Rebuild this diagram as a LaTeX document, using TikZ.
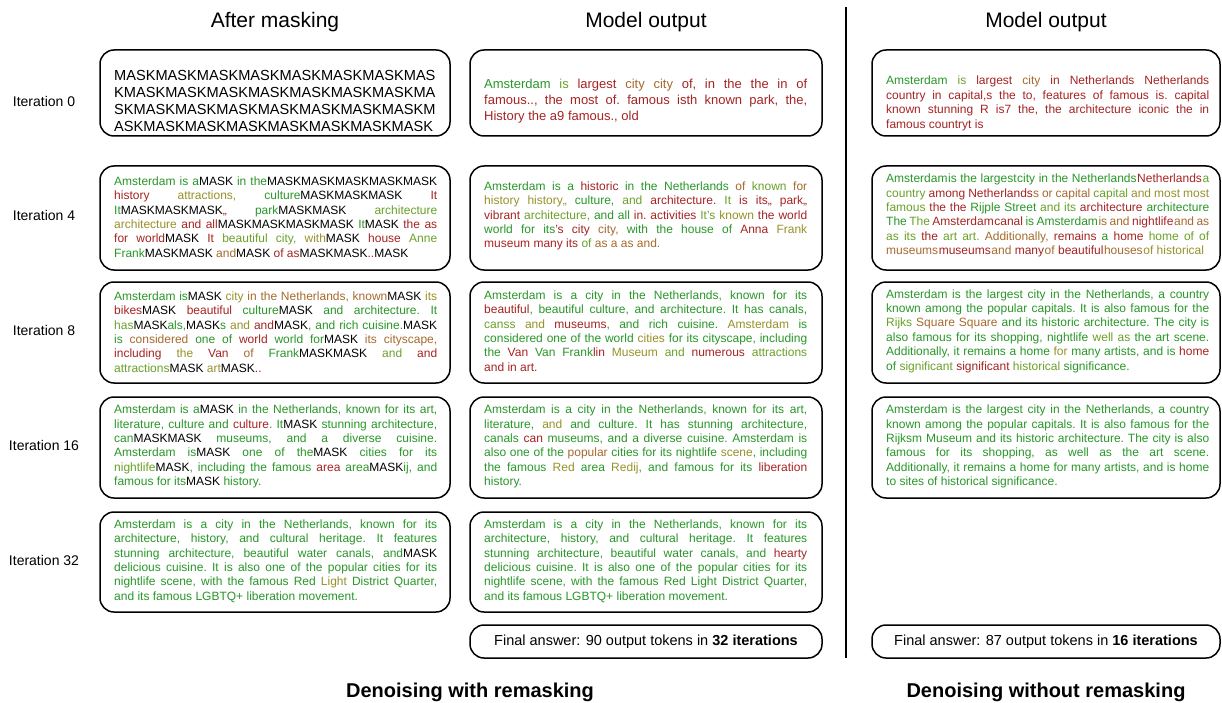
\documentclass[tikz,border=0pt]{standalone}
\usepackage{fontspec}
\setmainfont{Liberation Sans}
\definecolor{cg}{RGB}{40,150,40}
\definecolor{cl}{RGB}{105,160,40}
\definecolor{co}{RGB}{150,145,40}
\definecolor{cb}{RGB}{165,105,45}
\definecolor{cr}{RGB}{165,35,35}
\newcommand\cG[1]{\textcolor{cg}{#1}}
\newcommand\cL[1]{\textcolor{cl}{#1}}
\newcommand\cO[1]{\textcolor{co}{#1}}
\newcommand\cB[1]{\textcolor{cb}{#1}}
\newcommand\cR[1]{\textcolor{cr}{#1}}
\newcommand\MK{\textcolor{black}{MASK}}
\newcommand\tk{\kern0.6pt}
\newcommand\JL[1]{\makebox[323pt][s]{#1}}
\tikzset{
  box/.style={draw=black, line width=1.5pt, rounded corners=14pt, inner sep=0pt},
  body/.style={anchor=west, inner sep=0pt, align=left, font=\frenchspacing\fontsize{12}{14.4}\selectfont},
  head/.style={font=\fontsize{21}{25}\selectfont},
  iter/.style={font=\fontsize{14}{17}\selectfont},
  foot/.style={font=\bfseries\fontsize{20}{24}\selectfont},
  ans/.style={font=\fontsize{14.5}{17}\selectfont},
}
\begin{document}
\begin{tikzpicture}[x=1pt,y=-1pt]
\useasboundingbox (0,0) rectangle (1222,703);
% headings
\node[head] (h1) at (275,22) {After masking};
\node[head] (h2) at (646,22) {Model output};
\node[head] (h3) at (1046,22) {Model output};
% iteration labels
\node[iter] (i0) at (44,101) {Iteration 0};
\node[iter] (i4) at (44,215) {Iteration 4};
\node[iter] (i8) at (44,330) {Iteration 8};
\node[iter] (i16) at (44,445) {Iteration 16};
\node[iter] (i32) at (44,560) {Iteration 32};
% divider
\coordinate (dtop) at (846,7);
\coordinate (dbot) at (846,658);
\draw[line width=2.5pt] (dtop) -- (dbot);
% boxes
\node[box, minimum width=350pt, minimum height=86pt] (b01) at (275,93) {};
\node[box, minimum width=352pt, minimum height=86pt] (b02) at (646,93) {};
\node[box, minimum width=348pt, minimum height=86pt] (b03) at (1046,93) {};
\node[box, minimum width=350pt, minimum height=104pt] (b41) at (275,218) {};
\node[box, minimum width=352pt, minimum height=104pt] (b42) at (646,218) {};
\node[box, minimum width=348pt, minimum height=104pt] (b43) at (1046,218) {};
\node[box, minimum width=350pt, minimum height=101pt] (b81) at (275,332.5) {};
\node[box, minimum width=352pt, minimum height=101pt] (b82) at (646,332.5) {};
\node[box, minimum width=348pt, minimum height=101pt] (b83) at (1046,332.5) {};
\node[box, minimum width=350pt, minimum height=101pt] (b161) at (275,447.5) {};
\node[box, minimum width=352pt, minimum height=101pt] (b162) at (646,447.5) {};
\node[box, minimum width=348pt, minimum height=101pt] (b163) at (1046,447.5) {};
\node[box, minimum width=350pt, minimum height=100pt] (b321) at (275,562) {};
\node[box, minimum width=352pt, minimum height=100pt] (b322) at (646,562) {};
\node[box, minimum width=352pt, minimum height=33pt] (fa2) at (646,641.5) {};
\node[box, minimum width=348pt, minimum height=33pt] (fa3) at (1046,641.5) {};
\node[ans] (fat2) at (fa2.center) {Final answer: 90 output tokens in \textbf{32 iterations}};
\node[ans] (fat3) at (fa3.center) {Final answer: 87 output tokens in \textbf{16 iterations}};
% row 0
\node[body, font=\fontsize{14.6}{17}\selectfont] (t01) at (114,100.5) {MASKMASKMASKMASKMASKMASKMASKMAS\\KMASKMASKMASKMASKMASKMASKMASKMA\\SKMASKMASKMASKMASKMASKMASKMASKM\\ASKMASKMASKMASKMASKMASKMASKMASK};
\node[body, font=\frenchspacing\fontsize{13}{16}\selectfont] (t02) at (484,101.5) {%
\JL{\cG{Amsterdam} \cL{is} \cR{largest} \cB{city city} \cR{of, in the the in of}}\\
\JL{\cR{famous.., the most of. famous isth known park, the,}}\\
\cR{History the a9 famous., old}};
\node[body] (t03) at (886,103.5) {%
\JL{\cG{Amsterdam} \cL{is} \cR{largest} \cB{city} \cR{in Netherlands Netherlands}}\\
\JL{\cR{country in capital,s the to, features of famous is. capital}}\\
\JL{\cR{known stunning R is7 the, the architecture iconic the in}}\\
\cR{famous countryt is}};
% row 4
\node[body] (t41) at (114,217) {%
\JL{\cG{Amsterdam is a}\MK{} \cG{in the}\MK\MK\MK\MK\MK}\\
\JL{\cR{history} \cO{attractions,} \cG{culture}\MK\MK\MK{} \cR{It}}\\
\JL{\cG{It}\MK\MK\MK\cR{,,} \cG{park}\MK\MK{} \cL{architecture}}\\
\JL{\cO{architecture} \cR{and all}\MK\MK\MK\MK{} \cG{It}\MK{} \cR{the as}}\\
\JL{\cR{for world}\MK{} \cR{It} \cL{beautiful city,} \cO{with}\MK{} \cR{house} \cL{Anne}}\\
\cG{Frank}\MK\MK{} \cB{and}\MK{} \cR{of as}\MK\MK\cR{..}\MK};
\node[body] (t42) at (484,216) {%
\JL{\cG{Amsterdam is a} \cR{historic} \cG{in the Netherlands} \cB{of} \cL{known} \cB{for}}\\
\JL{\cO{history history,,} \cG{culture,} \cL{and} \cR{architecture.} \cL{It} \cR{is its,, park,,}}\\
\JL{\cR{vibrant} \cL{architecture,} \cG{and all} \cR{in. activities} \cL{It's} \cO{known} \cR{the world}}\\
\JL{\cG{world for its}\cR{'s} \cR{city} \cB{city,} \cG{with the house of} \cR{Anna} \cO{Frank}}\\
\cR{museum many its} \cL{of} \cB{as a as and.}};
\node[body] (t43) at (886,215.5) {%
\JL{\cG{Amsterdam}\tk\cG{is the largest}\tk\cG{city in the Netherlands}\tk\cR{Netherlands}\tk\cL{a}}\\
\JL{\cL{country} \cR{among} \cR{Netherlands}\cB{s} \cB{or capital} \cL{capital} \cO{and most most}}\\
\JL{\cL{famous} \cR{the the} \cG{Rijple Street} \cL{and its} \cR{architecture} \cG{architecture}}\\
\JL{\cG{The} \cL{The} \cR{Amsterdam}\tk\cR{canal} \cG{is Amsterdam}\tk\cB{is and} \cR{nightlife}\tk\cB{and as}}\\
\JL{\cL{as its} \cR{the} \cL{art art.} \cB{Additionally,} \cR{remains} \cG{a} \cR{home} \cL{home of of}}\\
\cB{museums}\tk\cR{museums}\tk\cB{and} \cR{many}\tk\cB{of} \cR{beautiful}\tk\cB{houses}\tk\cO{of historical}};
% row 8
\node[body] (t81) at (114,332) {%
\JL{\cG{Amsterdam is}\MK{} \cO{city} \cB{in the Netherlands, known}\MK{} \cO{its}}\\
\JL{\cR{bikes}\MK{} \cR{beautiful} \cG{culture}\MK{} \cG{and architecture. It}}\\
\JL{\cL{has}\MK\cG{als,}\MK\cG{s} \cO{and} \cR{and}\MK\cG{, and rich cuisine.}\MK}\\
\JL{\cG{is} \cB{considered} \cG{one of} \cR{world} \cG{world for}\MK{} \cB{its cityscape,}}\\
\JL{\cR{including} \cO{the} \cR{Van} \cB{of} \cG{Frank}\MK\MK{} \cL{and} \cR{and}}\\
\cL{attractions}\MK{} \cO{art}\MK\cR{..}};
\node[body] (t82) at (484,331) {%
\JL{\cG{Amsterdam is a city in the Netherlands, known for its}}\\
\JL{\cR{beautiful}\cG{, beautiful culture, and architecture. It has canals,}}\\
\JL{\cL{canss} \cO{and} \cR{museums}\cG{, and rich cuisine.} \cO{Amsterdam} \cG{is}}\\
\JL{\cG{considered one of the world} \cO{cities} \cG{for its cityscape, including}}\\
\JL{\cG{the} \cR{Van} \cG{Van Frank}\cR{lin} \cO{Museum} \cL{and} \cR{numerous} \cL{attractions}}\\
\cR{and in art.}};
\node[body] (t83) at (886,331) {%
\JL{\cG{Amsterdam is the largest city in the Netherlands, a country}}\\
\JL{\cG{known among the popular capitals. It is also famous for the}}\\
\JL{\cL{Rijks} \cB{Square Square} \cG{and its historic architecture. The city is}}\\
\JL{\cG{also famous for its shopping, nightlife} \cL{well as} \cG{the art scene.}}\\
\JL{\cG{Additionally, it remains a home} \cO{for} \cG{many artists, and is} \cR{home}}\\
\cG{of} \cL{significant} \cR{significant} \cL{historical} \cG{significance.}};
% row 16
\node[body] (t161) at (114,446.5) {%
\JL{\cG{Amsterdam is a}\MK{} \cG{in the Netherlands, known for its art,}}\\
\JL{\cG{literature, culture and} \cR{culture}\cG{. It}\MK{} \cG{stunning architecture,}}\\
\JL{\cG{can}\MK\MK{} \cG{museums, and a diverse cuisine.}}\\
\JL{\cG{Amsterdam is}\MK{} \cG{one of the}\MK{} \cG{cities for its}}\\
\JL{\cL{nightlife}\MK\cG{, including the famous} \cR{area} \cG{area}\MK\cG{ij, and}}\\
\cG{famous for its}\MK{} \cG{history.}};
\node[body] (t162) at (484,446.5) {%
\JL{\cG{Amsterdam is a city in the Netherlands, known for its art,}}\\
\JL{\cG{literature,} \cO{and} \cG{and culture. It has stunning architecture,}}\\
\JL{\cG{canals} \cR{can} \cG{museums, and a diverse cuisine. Amsterdam is}}\\
\JL{\cG{also one of the} \cB{popular} \cG{cities for its nightlife} \cO{scene}\cG{, including}}\\
\JL{\cG{the famous} \cO{Red} \cG{area} \cO{Redij}\cG{, and famous for its} \cR{liberation}}\\
\cG{history.}};
\node[body, text=cg] (t163) at (886,446.5) {%
\JL{Amsterdam is the largest city in the Netherlands, a country}\\
\JL{known among the popular capitals. It is also famous for the}\\
\JL{Rijksm Museum and its historic architecture. The city is also}\\
\JL{famous for its shopping, as well as the art scene.}\\
\JL{Additionally, it remains a home for many artists, and is home}\\
to sites of historical significance.};
% row 32
\node[body, text=cg] (t321) at (114,561) {%
\JL{Amsterdam is a city in the Netherlands, known for its}\\
\JL{architecture, history, and cultural heritage. It features}\\
\JL{stunning architecture, beautiful water canals, and\MK}\\
\JL{delicious cuisine. It is also one of the popular cities for its}\\
\JL{nightlife scene, with the famous Red \cO{Light} District Quarter,}\\
and its famous LGBTQ+ liberation movement.};
\node[body, text=cg] (t322) at (484,561) {%
\JL{Amsterdam is a city in the Netherlands, known for its}\\
\JL{architecture, history, and cultural heritage. It features}\\
\JL{stunning architecture, beautiful water canals, and \cR{hearty}}\\
\JL{delicious cuisine. It is also one of the popular cities for its}\\
\JL{nightlife scene, with the famous Red Light District Quarter,}\\
and its famous LGBTQ+ liberation movement.};
% footers
\node[foot] (f1) at (470,692) {Denoising with remasking};
\node[foot] (f2) at (1046,692) {Denoising without remasking};
\end{tikzpicture}
\end{document}
